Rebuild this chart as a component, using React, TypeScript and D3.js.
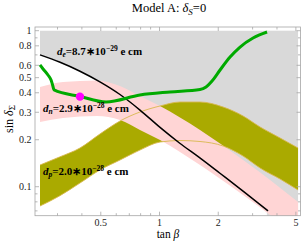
import { useEffect, useRef } from "react";
import * as d3 from "d3";

// d_e bound (black line)
const deTan = [0.244, 0.307, 0.391, 0.495, 0.627, 0.794, 1.006, 1.27, 1.61, 2.04, 2.59, 3.6];
const deSin = [0.7, 0.63, 0.55, 0.47, 0.39, 0.31, 0.24, 0.19, 0.153, 0.122, 0.097, 0.07];

// green curve
const greenTan = [0.244, 0.253, 0.268, 0.278, 0.284, 0.288, 0.391, 0.532, 0.794, 1.132, 1.613, 1.732, 1.859, 2.043, 2.299, 2.587, 3.016, 3.558];
const greenSin = [0.603, 0.568, 0.52, 0.483, 0.442, 0.417, 0.379, 0.349, 0.387, 0.405, 0.42, 0.436, 0.476, 0.56, 0.678, 0.786, 0.898, 0.981];

// d_n band (pink)
const dnTan = [0.244, 0.32, 0.478, 0.627, 0.794, 1.006, 1.613, 2.681, 3.687, 5.13];
const dnUpper = [0.4355, 0.469, 0.4795, 0.442, 0.3814, 0.329, 0.231, 0.1483, 0.1104, 0.0798];
const dnLower = [0.26, 0.2757, 0.284, 0.2677, 0.231, 0.1993, 0.1377, 0.0885, 0.0659, 0.0475];

// d_p band (olive)
const dpTan = [0.244, 0.307, 0.391, 0.495, 0.627, 0.794, 1.006, 1.274, 1.613, 2.117, 2.681, 3.277, 4.15, 5.13];
const dpUpper = [0.1377, 0.155, 0.177, 0.2177, 0.2637, 0.3012, 0.3292, 0.349, 0.349, 0.3243, 0.2839, 0.2414, 0.2052, 0.177];
const dpLower = [0.0752, 0.0872, 0.1056, 0.128, 0.1483, 0.1719, 0.1934, 0.1977, 0.1949, 0.1824, 0.1573, 0.1318, 0.112, 0.0953];

// marked point
const pointTan = 0.391;
const pointSin = 0.378;

const xMajor = [0.5, 1, 2, 5];
const xMinor = [0.3, 0.4, 0.6, 0.7, 0.8, 0.9, 3, 4];
const yMajor = [0.1, 0.2, 0.3, 0.4, 0.5, 0.6, 0.8, 1];
const yMinor = [0.07, 0.08, 0.09, 0.7, 0.9];

const labelSubs = ["e", "n", "p"];
const labelValues = ["8.7", "2.9", "2.0"];
const labelExps = ["\u221229", "\u221228", "\u221228"];

const SERIF = "'Liberation Serif', 'Times New Roman', serif";

export default function App() {
  const ref = useRef<SVGSVGElement>(null);

  useEffect(() => {
    const svg = d3.select(ref.current);
    svg.selectAll("*").remove();

    const left = 35;
    const right = 300.5;
    const top = 27;
    const bottom = 215.7;

    const x = d3.scaleLog().domain([0.23, 5.28]).range([left, right]);
    const y = d3.scaleLog().domain([0.0652, 1.056]).range([bottom, top]);

    svg
      .append("defs")
      .append("clipPath")
      .attr("id", "plotclip")
      .append("rect")
      .attr("x", left)
      .attr("y", top)
      .attr("width", right - left)
      .attr("height", bottom - top);

    const g = svg.append("g").attr("clip-path", "url(#plotclip)");

    // gray region above the d_e line
    const grayArea = d3
      .area<number>()
      .x((_, i) => x(deTan[i]))
      .y0(() => y(1))
      .y1((_, i) => y(deSin[i]))
      .curve(d3.curveMonotoneX);
    g.append("path").attr("d", grayArea(deTan)).attr("fill", "#d9d9d9");
    g.append("rect")
      .attr("x", x(3.55))
      .attr("y", y(1))
      .attr("width", x(5.13) - x(3.55))
      .attr("height", bottom - y(1))
      .attr("fill", "#d9d9d9");

    // olive band
    const dpArea = d3
      .area<number>()
      .x((_, i) => x(dpTan[i]))
      .y0((_, i) => y(dpLower[i]))
      .y1((_, i) => y(dpUpper[i]))
      .curve(d3.curveMonotoneX);
    g.append("path").attr("d", dpArea(dpTan)).attr("fill", "#aaaa00");

    // pink band
    const dnArea = d3
      .area<number>()
      .x((_, i) => x(dnTan[i]))
      .y0((_, i) => y(dnLower[i]))
      .y1((_, i) => y(dnUpper[i]))
      .curve(d3.curveMonotoneX);
    g.append("path").attr("d", dnArea(dnTan)).attr("fill", "#ffd5d5");

    // thin olive outline
    const dpLine = (vals: number[]) =>
      d3
        .line<number>()
        .x((_, i) => x(dpTan[i]))
        .y((v) => y(v))
        .curve(d3.curveMonotoneX)(vals);
    [dpUpper, dpLower].forEach((vals) => {
      g.append("path")
        .attr("d", dpLine(vals))
        .attr("fill", "none")
        .attr("stroke", "#d8b84e")
        .attr("stroke-width", 0.9);
    });

    // black d_e line
    const deLine = d3
      .line<number>()
      .x((_, i) => x(deTan[i]))
      .y((v) => y(v))
      .curve(d3.curveMonotoneX);
    g.append("path")
      .attr("d", deLine(deSin))
      .attr("fill", "none")
      .attr("stroke", "#000")
      .attr("stroke-width", 1.5);

    // green curve
    const greenLine = d3
      .line<number>()
      .x((_, i) => x(greenTan[i]))
      .y((v) => y(v))
      .curve(d3.curveMonotoneX);
    g.append("path")
      .attr("d", greenLine(greenSin))
      .attr("fill", "none")
      .attr("stroke", "#00aa00")
      .attr("stroke-width", 3)
      .attr("stroke-linejoin", "round");

    g.append("circle")
      .attr("cx", x(pointTan))
      .attr("cy", y(pointSin))
      .attr("r", 4.2)
      .attr("fill", "#ff00ff");

    // formula labels
    const labelPos = [
      [57, 55],
      [43, 112],
      [43, 175],
    ];
    labelSubs.forEach((sub, i) => {
      const t = svg
        .append("text")
        .attr("x", labelPos[i][0])
        .attr("y", labelPos[i][1])
        .attr("font-family", SERIF)
        .attr("font-weight", "bold")
        .attr("font-size", 11)
        .attr("fill", "#000");
      t.append("tspan").attr("font-style", "italic").text("d");
      t.append("tspan").attr("font-style", "italic").attr("font-size", 7.5).attr("dy", 2).text(sub);
      t.append("tspan").attr("dy", -2).text(`=${labelValues[i]}\u221710`);
      t.append("tspan").attr("font-size", 7.5).attr("dy", -4.5).text(labelExps[i]);
      t.append("tspan").attr("dy", 4.5).text(" e cm");
    });

    // frame
    svg
      .append("rect")
      .attr("x", left)
      .attr("y", top)
      .attr("width", right - left)
      .attr("height", bottom - top)
      .attr("fill", "none")
      .attr("stroke", "#a6a6a6")
      .attr("stroke-width", 0.8);

    const tickColor = "#a6a6a6";
    const addXTicks = (vals: number[], len: number) =>
      vals.forEach((v) => {
        svg.append("line").attr("x1", x(v)).attr("x2", x(v)).attr("y1", bottom).attr("y2", bottom - len)
          .attr("stroke", tickColor).attr("stroke-width", 0.8);
        svg.append("line").attr("x1", x(v)).attr("x2", x(v)).attr("y1", top).attr("y2", top + len)
          .attr("stroke", tickColor).attr("stroke-width", 0.8);
      });
    const addYTicks = (vals: number[], len: number) =>
      vals.forEach((v) => {
        svg.append("line").attr("x1", left).attr("x2", left + len).attr("y1", y(v)).attr("y2", y(v))
          .attr("stroke", tickColor).attr("stroke-width", 0.8);
        svg.append("line").attr("x1", right).attr("x2", right - len).attr("y1", y(v)).attr("y2", y(v))
          .attr("stroke", tickColor).attr("stroke-width", 0.8);
      });
    addXTicks(xMajor, 4);
    addXTicks(xMinor, 2.5);
    addYTicks(yMajor, 4);
    addYTicks(yMinor, 2.5);

    xMajor.forEach((v) => {
      svg.append("text")
        .attr("x", x(v))
        .attr("y", 225.5)
        .attr("text-anchor", "middle")
        .attr("font-family", SERIF)
        .attr("font-size", 10)
        .attr("fill", "#222")
        .text(String(v));
    });
    yMajor.forEach((v) => {
      svg.append("text")
        .attr("x", 31.5)
        .attr("y", y(v) + 3.3)
        .attr("text-anchor", "end")
        .attr("font-family", SERIF)
        .attr("font-size", 10)
        .attr("fill", "#222")
        .text(String(v));
    });

    // title
    const title = svg
      .append("text")
      .attr("x", 169)
      .attr("y", 12)
      .attr("text-anchor", "middle")
      .attr("font-family", SERIF)
      .attr("font-size", 12.5)
      .attr("fill", "#000");
    title.append("tspan").text("Model A: ");
    title.append("tspan").attr("font-style", "italic").text("\u03b4");
    title.append("tspan").attr("font-style", "italic").attr("font-size", 9).attr("dy", 2.5).text("S");
    title.append("tspan").attr("dy", -2.5).text("=0");

    // axis labels
    const xl = svg
      .append("text")
      .attr("x", 168)
      .attr("y", 238)
      .attr("text-anchor", "middle")
      .attr("font-family", SERIF)
      .attr("font-size", 11.5)
      .attr("fill", "#000");
    xl.append("tspan").text("tan ");
    xl.append("tspan").attr("font-style", "italic").text("\u03b2");

    const yl = svg
      .append("text")
      .attr("transform", "translate(12.5,119) rotate(-90)")
      .attr("text-anchor", "middle")
      .attr("font-family", SERIF)
      .attr("font-size", 12)
      .attr("fill", "#000");
    yl.append("tspan").text("sin ");
    yl.append("tspan").attr("font-style", "italic").text("\u03b4");
    yl.append("tspan").attr("font-size", 9).attr("dy", 2.5).text("\u03a3");
  }, []);

  return (
    <svg
      ref={ref}
      width={306}
      height={248}
      style={{ position: "absolute", left: 0, top: 0, background: "#fff" }}
    />
  );
}
